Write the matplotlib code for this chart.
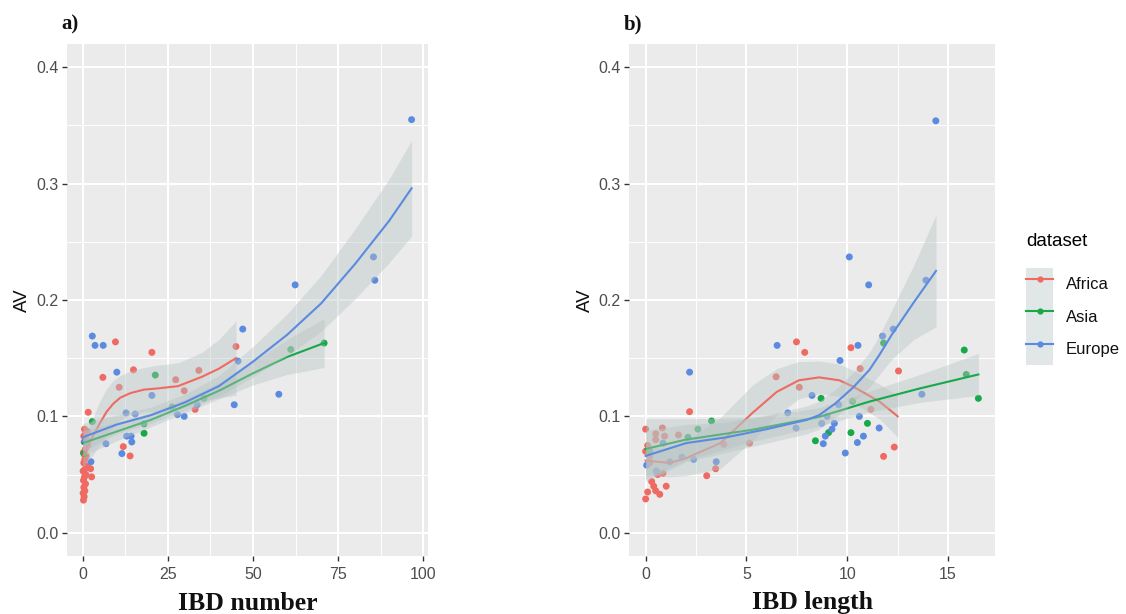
import matplotlib
matplotlib.use("Agg")
import matplotlib.pyplot as plt
import numpy as np
from matplotlib.lines import Line2D
from matplotlib.patches import Patch
from matplotlib.legend_handler import HandlerTuple
from matplotlib.ticker import MultipleLocator

# ---------------- data ----------------
groups = ["Africa", "Asia", "Europe"]
colors = {"Africa": "#EE6A62", "Asia": "#17A84A", "Europe": "#5A8BE0"}

# panel a : IBD number vs AV
a_africa_x = [0.2, 0.4, 0.1, 0.6, 0.3, 0.8, 0.2, 0.5, 0.9, 0.1, 0.7, 1.2, 0.3, 0.6, 1.0, 0.2, 0.8, 1.5,
              0.4, 1.1, 0.3, 0.9, 0.5, 1.4, 2.6, 2.3, 1.6, 9.6, 20.3, 45.0, 14.9, 5.9, 10.7, 27.3,
              34.1, 29.8, 33.0, 11.9, 13.9]
a_africa_y = [0.028, 0.031, 0.034, 0.036, 0.039, 0.042, 0.045, 0.048, 0.050, 0.053, 0.055, 0.057,
              0.060, 0.063, 0.066, 0.069, 0.072, 0.075, 0.078, 0.080, 0.083, 0.086, 0.089, 0.087,
              0.048, 0.055, 0.1035, 0.164, 0.155, 0.160, 0.140, 0.1335, 0.125, 0.1315, 0.1395,
              0.122, 0.106, 0.074, 0.066]
a_asia_x = [0.3, 2.8, 18.0, 18.0, 21.3, 26.3, 35.6, 61.1, 70.9]
a_asia_y = [0.068, 0.0955, 0.0935, 0.0855, 0.1355, 0.108, 0.1155, 0.1575, 0.163]
a_europe_x = [96.6, 85.4, 85.8, 62.4, 47.0, 45.6, 57.6, 44.5, 2.8, 3.6, 6.0, 10.0, 20.3, 33.6,
              27.8, 29.8, 12.7, 15.4, 12.9, 14.2, 14.4, 6.8, 11.5, 2.4, 0.5]
a_europe_y = [0.355, 0.237, 0.217, 0.213, 0.175, 0.1475, 0.119, 0.110, 0.169, 0.161, 0.161, 0.138,
              0.118, 0.110, 0.1015, 0.100, 0.103, 0.102, 0.083, 0.083, 0.078, 0.0765, 0.068,
              0.061, 0.078]

# panel b : IBD length vs AV
b_africa_x = [7.48, 7.89, 10.18, 6.47, 7.62, 10.64, 2.18, 0.0, 0.83, 0.5, 0.5, 0.94, 1.63, 0.0,
              3.88, 5.15, 3.47, 3.03, 1.02, 0.0, 0.1, 0.5, 0.3, 0.86, 12.54, 11.17, 12.33, 11.8,
              0.2, 0.6, 0.4, 0.7, 0.2, 0.1]
b_africa_y = [0.164, 0.155, 0.159, 0.134, 0.125, 0.141, 0.104, 0.089, 0.090, 0.085, 0.080, 0.083,
              0.084, 0.070, 0.076, 0.077, 0.055, 0.049, 0.040, 0.029, 0.035, 0.036, 0.044, 0.051,
              0.139, 0.106, 0.0736, 0.0656, 0.060, 0.050, 0.040, 0.033, 0.065, 0.075]
b_asia_x = [0.2, 2.1, 2.59, 3.27, 8.42, 8.7, 9.07, 10.18, 10.26, 11.0, 11.8, 15.8, 15.9, 16.5]
b_asia_y = [0.070, 0.082, 0.089, 0.096, 0.079, 0.1155, 0.086, 0.086, 0.113, 0.094, 0.163, 0.157,
            0.136, 0.1155]
b_europe_x = [14.39, 10.1, 13.9, 11.06, 12.28, 11.75, 10.53, 6.52, 9.64, 2.18, 13.7, 8.25, 11.58,
              10.6, 7.05, 7.46, 8.73, 9.0, 9.24, 8.91, 8.81, 9.9, 10.5, 10.8, 3.5, 0.86, 0.53,
              2.38, 1.8, 1.2, 9.57, 9.36, 0.05]
b_europe_y = [0.354, 0.237, 0.217, 0.213, 0.175, 0.169, 0.161, 0.161, 0.148, 0.138, 0.119, 0.118,
              0.090, 0.100, 0.103, 0.090, 0.094, 0.100, 0.089, 0.083, 0.0765, 0.0685, 0.0775,
              0.083, 0.061, 0.077, 0.053, 0.063, 0.065, 0.061, 0.110, 0.094, 0.058]

# smoothed (loess) fits, with ribbon half widths
a_africa_fit_x = [0, 1, 3, 5, 7, 9, 11, 14, 18, 22, 28, 35, 40, 45]
a_africa_fit_y = [0.066, 0.072, 0.083, 0.094, 0.104, 0.111, 0.116, 0.120, 0.123, 0.124, 0.126,
                  0.134, 0.141, 0.150]
a_africa_fit_se = [0.010, 0.012, 0.016, 0.019, 0.020, 0.020, 0.019, 0.019, 0.019, 0.020, 0.020,
                   0.021, 0.025, 0.032]
a_asia_fit_x = [0, 10, 20, 30, 40, 50, 60, 70.9]
a_asia_fit_y = [0.077, 0.087, 0.097, 0.109, 0.122, 0.137, 0.151, 0.163]
a_asia_fit_se = [0.011, 0.008, 0.006, 0.006, 0.007, 0.010, 0.015, 0.021]
a_europe_fit_x = [0, 10, 20, 30, 40, 50, 60, 70, 80, 90, 96.6]
a_europe_fit_y = [0.082, 0.093, 0.101, 0.112, 0.126, 0.147, 0.170, 0.197, 0.231, 0.268, 0.296]
a_europe_fit_se = [0.012, 0.008, 0.007, 0.007, 0.009, 0.013, 0.018, 0.024, 0.030, 0.036, 0.041]

b_africa_fit_x = [0, 1.2, 2, 3.7, 5.3, 6.5, 7.6, 8.6, 9.6, 10.3, 11.6, 12.5]
b_africa_fit_y = [0.062, 0.060, 0.064, 0.077, 0.103, 0.121, 0.131, 0.1335, 0.131, 0.1255, 0.1127,
                  0.100]
b_africa_fit_se = [0.012, 0.012, 0.015, 0.022, 0.024, 0.020, 0.016, 0.014, 0.014, 0.014, 0.015,
                   0.018]
b_asia_fit_x = [0, 2, 5.3, 8.6, 11.1, 13.6, 16.5]
b_asia_fit_y = [0.072, 0.080, 0.0885, 0.0995, 0.1127, 0.124, 0.136]
b_asia_fit_se = [0.026, 0.018, 0.010, 0.008, 0.009, 0.012, 0.018]
b_europe_fit_x = [0, 2, 4, 6, 8, 8.6, 9.4, 10.3, 11.1, 11.6, 12.2, 13.3, 14.4]
b_europe_fit_y = [0.066, 0.077, 0.082, 0.089, 0.097, 0.101, 0.111, 0.125, 0.140, 0.153, 0.170,
                  0.198, 0.225]
b_europe_fit_se = [0.022, 0.016, 0.013, 0.012, 0.012, 0.012, 0.012, 0.013, 0.015, 0.017, 0.021,
                   0.032, 0.048]

x_ticks_a = [0, 25, 50, 75, 100]
x_ticks_b = [0, 5, 10, 15]
y_ticks = [0.0, 0.1, 0.2, 0.3, 0.4]

panels = {
    "a": {
        "pts": {"Africa": (a_africa_x, a_africa_y), "Asia": (a_asia_x, a_asia_y),
                "Europe": (a_europe_x, a_europe_y)},
        "fit": {"Africa": (a_africa_fit_x, a_africa_fit_y, a_africa_fit_se),
                "Asia": (a_asia_fit_x, a_asia_fit_y, a_asia_fit_se),
                "Europe": (a_europe_fit_x, a_europe_fit_y, a_europe_fit_se)},
        "xticks": x_ticks_a, "minor": 12.5, "xlabel": "IBD number", "tag": "a)",
    },
    "b": {
        "pts": {"Africa": (b_africa_x, b_africa_y), "Asia": (b_asia_x, b_asia_y),
                "Europe": (b_europe_x, b_europe_y)},
        "fit": {"Africa": (b_africa_fit_x, b_africa_fit_y, b_africa_fit_se),
                "Asia": (b_asia_fit_x, b_asia_fit_y, b_asia_fit_se),
                "Europe": (b_europe_fit_x, b_europe_fit_y, b_europe_fit_se)},
        "xticks": x_ticks_b, "minor": 2.5, "xlabel": "IBD length", "tag": "b)",
    },
}

# ---------------- figure ----------------
W, H = 1126, 614
fig = plt.figure(figsize=(W / 100, H / 100), dpi=100)
SANS = ["Liberation Sans", "DejaVu Sans"]
SERIF = ["Liberation Serif", "DejaVu Serif"]
band_color = "#B8C4C4"
panel_bg = "#EBEBEB"

boxes = {"a": (66.7, 428.0), "b": (629.0, 995.0)}
top_px, bot_px = 44.0, 556.0

for key, spec in panels.items():
    l, r = boxes[key]
    ax = fig.add_axes([l / W, 1 - bot_px / H, (r - l) / W, (bot_px - top_px) / H])
    ax.set_facecolor(panel_bg)
    for s in ax.spines.values():
        s.set_visible(False)

    allx = np.concatenate([np.asarray(v[0], float) for v in spec["pts"].values()])
    lo, hi = allx.min(), allx.max()
    pad = 0.05 * (hi - lo)
    ax.set_xlim(lo - pad, hi + pad)
    ax.set_ylim(-0.02, 0.42)

    ax.set_xticks(spec["xticks"])
    ax.set_xticklabels([str(t) for t in spec["xticks"]])
    ax.set_yticks(y_ticks)
    ax.set_yticklabels([f"{t:.1f}" for t in y_ticks])
    ax.xaxis.set_minor_locator(MultipleLocator(spec["minor"]))
    ax.yaxis.set_minor_locator(MultipleLocator(0.05))
    ax.grid(which="major", color="white", lw=1.5, zorder=0)
    ax.grid(which="minor", color="white", lw=0.7, zorder=0)
    ax.set_axisbelow(True)
    ax.tick_params(which="major", length=3.5, width=1.0, color="#333333",
                   labelcolor="#4D4D4D", labelsize=11.5, pad=2.5)
    ax.tick_params(axis="x", which="major", pad=4.5)
    ax.tick_params(which="minor", length=0)
    for lab in ax.get_xticklabels() + ax.get_yticklabels():
        lab.set_family(SANS)

    # points first
    for g in groups:
        xs, ys = spec["pts"][g]
        ax.scatter(xs, ys, s=25, color=colors[g], edgecolors="none", zorder=2)
    # smooth: ribbon then line, group by group
    for i, g in enumerate(groups):
        fx, fy, fse = (np.asarray(v, float) for v in spec["fit"][g])
        ax.fill_between(fx, fy - fse, fy + fse, color=band_color, alpha=0.42, lw=0,
                        zorder=3 + 2 * i)
        ax.plot(fx, fy, color=colors[g], lw=1.5, zorder=4 + 2 * i)

    cx = (l + r) / 2 / W
    fig.text(cx, 1 - 603 / H, spec["xlabel"], ha="center", va="center",
             family=SERIF, fontweight="bold", fontsize=18.5, color="#111111")
    fig.text((l - 44) / W, 1 - (top_px + bot_px) / 2 / H, "AV", rotation=90,
             ha="center", va="center", family=SANS, fontsize=13.5, color="#111111")
    fig.text((l - 5) / W, 1 - 24 / H, spec["tag"], ha="left", va="center",
             family=SERIF, fontweight="bold", fontsize=15, color="#111111")

# legend
handles = []
for g in groups:
    p = Patch(facecolor=band_color, alpha=0.42, edgecolor="none")
    ln = Line2D([], [], color=colors[g], lw=1.5, marker="o", markersize=4.5,
                markeredgewidth=0)
    handles.append((p, ln))
leg = fig.legend(handles, groups, title="dataset", loc="upper left",
                 bbox_to_anchor=(1026 / W, 1 - 233 / H), frameon=False,
                 handler_map={tuple: HandlerTuple(ndivide=1, pad=0)},
                 handlelength=1.62, handleheight=2.62, labelspacing=0.0,
                 handletextpad=0.75, borderpad=0, borderaxespad=0,
                 prop={"family": SANS, "size": 12},
                 title_fontproperties={"family": SANS, "size": 13.5},
                 alignment="left")
leg._legend_box.sep = 13
for t in leg.get_texts():
    t.set_color("#111111")

fig.savefig("out.png", dpi=100, facecolor="white")
